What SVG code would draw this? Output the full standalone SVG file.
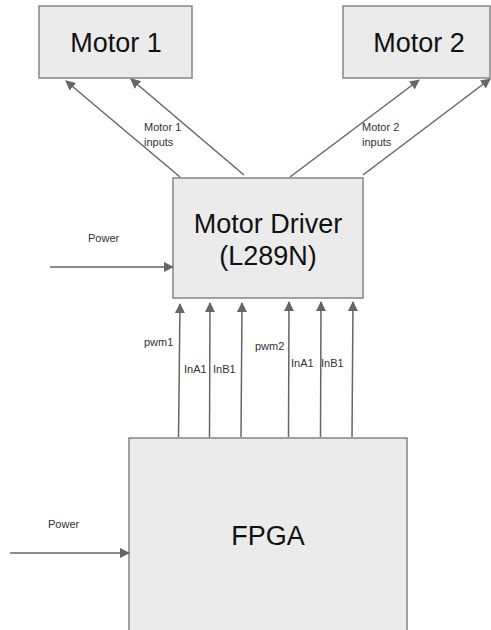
<svg xmlns="http://www.w3.org/2000/svg" width="491" height="630" viewBox="0 0 491 630">
<style>
.box{fill:#ebebeb;stroke:#858585;stroke-width:1.5}
.big{font-family:"Liberation Sans",Arial,sans-serif;font-size:27px;fill:#111;text-anchor:middle}
.lbl{font-family:"Liberation Sans",Arial,sans-serif;font-size:11px;fill:#333}
.con{stroke:#666;stroke-width:1.5;fill:none;marker-end:url(#ah)}
</style>
<defs>
<marker id="ah" viewBox="0 0 10 10" refX="9" refY="5" markerWidth="10" markerHeight="10" markerUnits="userSpaceOnUse" orient="auto">
<path d="M0,0 L10,5 L0,10 z" fill="#666"/>
</marker>
</defs>
<rect width="491" height="630" fill="#fff"/>
<g id="motor1"><rect class="box" x="39" y="6" width="153" height="72"/><text class="big" x="116" y="52">Motor 1</text></g>
<g id="motor2"><rect class="box" x="343" y="6" width="147" height="72"/><text class="big" x="419" y="52">Motor 2</text></g>
<g id="driver"><rect class="box" x="173" y="178" width="190" height="120"/><text class="big" x="268" y="233">Motor Driver</text><text class="big" x="268" y="265">(L289N)</text></g>
<g id="fpga"><rect class="box" x="129" y="438" width="278" height="210"/><text class="big" x="268" y="545">FPGA</text></g>
<g id="connectors">
<line class="con" x1="180" y1="177" x2="66" y2="81"/>
<line class="con" x1="244" y1="175" x2="131" y2="79"/>
<line class="con" x1="290" y1="177" x2="419" y2="80"/>
<line class="con" x1="363" y1="175" x2="490" y2="79"/>
<line class="con" x1="50" y1="267" x2="173" y2="267"/>
<line class="con" x1="10" y1="553" x2="129" y2="553"/>
<line class="con" x1="178.5" y1="437" x2="180" y2="304"/>
<line class="con" x1="209.5" y1="437" x2="210" y2="303"/>
<line class="con" x1="241" y1="437" x2="242" y2="303"/>
<line class="con" x1="288.5" y1="437" x2="289" y2="302"/>
<line class="con" x1="320.5" y1="437" x2="321" y2="302"/>
<line class="con" x1="352" y1="437" x2="353" y2="302"/>
<text class="lbl" x="144" y="131">Motor 1</text>
<text class="lbl" x="144" y="146">inputs</text>
<text class="lbl" x="362" y="131">Motor 2</text>
<text class="lbl" x="362" y="146">inputs</text>
<text class="lbl" x="88" y="242">Power</text>
<text class="lbl" x="48" y="528">Power</text>
<text class="lbl" x="144" y="346">pwm1</text>
<text class="lbl" x="184" y="373">InA1</text>
<text class="lbl" x="213" y="373">InB1</text>
<text class="lbl" x="255" y="350">pwm2</text>
<text class="lbl" x="291" y="367">InA1</text>
<text class="lbl" x="321" y="367">InB1</text>
</g>
</svg>
